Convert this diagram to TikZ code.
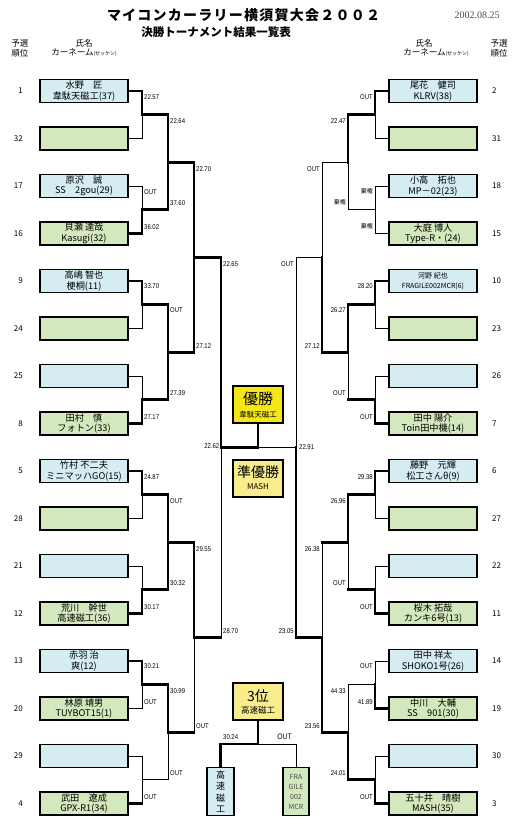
\documentclass[tikz,border=0pt]{standalone}
\usepackage{fontspec}
\setmainfont{Noto Sans CJK JP}
\newfontfamily\timefont[FakeStretch=0.85]{Liberation Sans}
\newfontfamily\datefont{Liberation Serif}
\definecolor{boxblue}{RGB}{212,236,242}
\definecolor{boxgreen}{RGB}{212,232,190}
\definecolor{gold}{RGB}{245,230,25}
\definecolor{palegold}{RGB}{248,236,140}

\tikzset{
  entry/.style={draw, line width=1.8pt, minimum width=88pt, minimum height=23pt,
    inner sep=0pt, align=center, font=\fontsize{9.2}{10.5}\selectfont},
  seedA/.style={entry, fill=boxblue},
  seedB/.style={entry, fill=boxgreen},
  win/.style={line width=2.6pt, line cap=rect},
  lose/.style={line width=0.9pt, line cap=rect},
  time/.style={font=\timefont\fontsize{7}{8}\selectfont, inner sep=0pt},
  rank/.style={font=\fontsize{8}{9}\selectfont, inner sep=0pt},
  head/.style={font=\fontsize{8.5}{9}\selectfont, inner sep=0pt},
  medal/.style={draw, line width=2.4pt, minimum width=50pt, minimum height=37pt,
    inner sep=0pt, align=center},
}

\begin{document}
\begin{tikzpicture}[x=1pt, y=-1pt]
\useasboundingbox (0,0) rectangle (520,822);

% title
\node (title) at (243.5,15) {\fontsize{14}{15}\selectfont\bfseries\makebox[273pt]{マ\hfill イ\hfill コ\hfill ン\hfill カ\hfill ー\hfill ラ\hfill リ\hfill ー\hfill 横\hfill 須\hfill 賀\hfill 大\hfill 会\hfill ２\hfill ０\hfill ０\hfill ２}};
\node (subtitle) at (216,32) {\fontsize{11.5}{12}\selectfont\bfseries 決勝トーナメント結果一覧表};
\node[font=\datefont\fontsize{10}{11}\selectfont, text=black!70] (date) at (477,15) {2002.08.25};

% column heads
\node[head] (lhA) at (20,43) {予選};
\node[head] (lhB) at (20,53) {順位};
\node[head] (lhC) at (84,43) {氏名};
\node[head] (lhD) at (84,53) {カーネーム{\fontsize{5}{6}\selectfont (ゼッケン)}};
\node[head] (rhA) at (499,43) {予選};
\node[head] (rhB) at (499,53) {順位};
\node[head] (rhC) at (424,43) {氏名};
\node[head] (rhD) at (436,53) {カーネーム{\fontsize{5}{6}\selectfont (ゼッケン)}};

% seeds
\foreach \s [count=\i from 0] in {1,32,17,16,9,24,25,8,5,28,21,12,13,20,29,4}
  \node[rank, anchor=east] (ls\s) at (23,91+47.5*\i) {\s};
\foreach \s [count=\i from 0] in {2,31,18,15,10,23,26,7,6,27,22,11,14,19,30,3}
  \node[rank, anchor=west] (rs\s) at (492,91+47.5*\i) {\s};

% left entries
\node[seedA] (l1)  at (84,91)    {水野　匠\\韋駄天磁工(37)};
\node[seedB] (l32) at (84,138.5) {};
\node[seedA] (l17) at (84,186)   {原沢　誠\\SS　2gou(29)};
\node[seedB] (l16) at (84,233.5) {貝瀬 達哉\\Kasugi(32)};
\node[seedA] (l9)  at (84,281)   {高嶋 智也\\梗桐(11)};
\node[seedB] (l24) at (84,328.5) {};
\node[seedA] (l25) at (84,376)   {};
\node[seedB] (l8)  at (84,423.5) {田村　慎\\フォトン(33)};
\node[seedA] (l5)  at (84,471)   {竹村 不二夫\\ミニマッハGO(15)};
\node[seedB] (l28) at (84,518.5) {};
\node[seedA] (l21) at (84,566)   {};
\node[seedB] (l12) at (84,613.5) {荒川　幹世\\高速磁工(36)};
\node[seedA] (l13) at (84,661)   {赤羽 治\\爽(12)};
\node[seedB] (l20) at (84,708.5) {林原 靖男\\TUYBOT15(1)};
\node[seedA] (l29) at (84,756)   {};
\node[seedB] (l4)  at (84,803.5) {武田　遼成\\GPX-R1(34)};

% right entries
\node[seedA] (r2)  at (433,91)    {尾花　健司\\KLRV(38)};
\node[seedB] (r31) at (433,138.5) {};
\node[seedA] (r18) at (433,186)   {小高　拓也\\MP－02(23)};
\node[seedB] (r15) at (433,233.5) {大庭 博人\\Type-R・(24)};
\node[seedA, font=\fontsize{7}{9.5}\selectfont] (r10) at (433,281) {河野 紀也\\FRAGILE002MCR(6)};
\node[seedB] (r23) at (433,328.5) {};
\node[seedA] (r26) at (433,376)   {};
\node[seedB] (r7)  at (433,423.5) {田中 陽介\\Toin田中機(14)};
\node[seedA] (r6)  at (433,471)   {藤野　元輝\\松工さんθ(9)};
\node[seedB] (r27) at (433,518.5) {};
\node[seedA] (r22) at (433,566)   {};
\node[seedB] (r11) at (433,613.5) {桜木 拓哉\\カンキ6号(13)};
\node[seedA] (r14) at (433,661)   {田中 祥太\\SHOKO1号(26)};
\node[seedB] (r19) at (433,708.5) {中川　大輔\\SS　901(30)};
\node[seedA] (r30) at (433,756)   {};
\node[seedB] (r3)  at (433,803.5) {五十井　晴樹\\MASH(35)};

% medals
\node[medal, fill=gold] (champ) at (258,404.5) {\fontsize{15}{17}\selectfont 優勝\\[1pt]\fontsize{7.5}{9}\selectfont 韋駄天磁工};
\node[medal, fill=palegold, line width=2pt] (second) at (258,478) {\fontsize{14}{16}\selectfont 準優勝\\\fontsize{8}{9}\selectfont MASH};
\node[medal, fill=palegold, line width=2pt] (third) at (258,701.5) {\fontsize{14}{16}\selectfont 3位\\\fontsize{8.5}{9}\selectfont 高速磁工};
\node[entry, fill=boxblue, minimum width=27pt, minimum height=48pt,
  font=\fontsize{9}{11.5}\selectfont] (bronzeL) at (220.5,791.5) {高\\速\\磁\\工};
\node[entry, fill=boxgreen, line width=1.6pt, minimum width=26pt, minimum height=48pt,
  font=\fontsize{7}{10}\selectfont, text=black!70] (bronzeR) at (296,791.5) {FRA\\GILE\\002\\MCR};

% junctions
\coordinate (la1) at (142,114.75);
\coordinate (la2) at (142,209.75);
\coordinate (la3) at (142,304.75);
\coordinate (la4) at (142,399.75);
\coordinate (la5) at (142,494.75);
\coordinate (la6) at (142,589.75);
\coordinate (la7) at (142,684.75);
\coordinate (la8) at (142,779.75);
\coordinate (lb1) at (168,162.25);
\coordinate (lb2) at (168,352.25);
\coordinate (lb3) at (168,542.25);
\coordinate (lb4) at (168,732.25);
\coordinate (lc1) at (194,257.25);
\coordinate (lc2) at (194,637.25);
\coordinate (ld)  at (221,447.25);
\coordinate (ra1) at (375,114.75);
\coordinate (ra2) at (375,209.75);
\coordinate (ra3) at (375,304.75);
\coordinate (ra4) at (375,399.75);
\coordinate (ra5) at (375,494.75);
\coordinate (ra6) at (375,589.75);
\coordinate (ra7) at (375,684.75);
\coordinate (ra8) at (375,779.75);
\coordinate (rb1) at (348,162.25);
\coordinate (rb2) at (348,352.25);
\coordinate (rb3) at (348,542.25);
\coordinate (rb4) at (348,732.25);
\coordinate (rc1) at (322,257.25);
\coordinate (rc2) at (322,637.25);
\coordinate (rd)  at (296,447.25);
\coordinate (fin) at (258,447.25);
\coordinate (tp)  at (258,744);

% left bracket
\draw[lose] (l32.east) -| (la1);
\draw[win]  (l1.east)  -| (la1);
\draw[lose] (l17.east) -| (la2);
\draw[win]  (l16.east) -| (la2);
\draw[lose] (l24.east) -| (la3);
\draw[win]  (l9.east)  -| (la3);
\draw[lose] (l25.east) -| (la4);
\draw[win]  (l8.east)  -| (la4);
\draw[lose] (l28.east) -| (la5);
\draw[win]  (l5.east)  -| (la5);
\draw[lose] (l21.east) -| (la6);
\draw[win]  (l12.east) -| (la6);
\draw[lose] (l20.east) -| (la7);
\draw[win]  (l13.east) -| (la7);
\draw[lose] (l29.east) -| (la8);
\draw[lose] (l4.east -| la8) -- (la8);
\draw[win]  (l4.east) -- (l4.east -| la8);

\draw[win]  (la1) -| (lb1);
\draw[win]  (la2) -| (lb1);
\draw[win]  (la3) -| (lb2);
\draw[win]  (la4) -| (lb2);
\draw[win]  (la5) -| (lb3);
\draw[win]  (la6) -| (lb3);
\draw[lose] (la8) -| (lb4);
\draw[win]  (la7) -| (lb4);

\draw[win]  (lb1) -| (lc1);
\draw[win]  (lb2) -| (lc1);
\draw[win]  (lb3) -| (lc2);
\draw[lose] (lb4 -| lc2) -- (lc2);
\draw[win]  (lb4) -- (lb4 -| lc2);

\draw[lose] (lc2 -| ld) -- (ld);
\draw[win]  (lc1) -| (ld);
\draw[win]  (lc2) -- (lc2 -| ld);

% right bracket
\draw[lose] (r31.west) -| (ra1);
\draw[win]  (r2.west)  -| (ra1);
\draw[lose] (r18.west) -| (ra2);
\draw[lose] (r15.west) -| (ra2);
\draw[lose] (r23.west) -| (ra3);
\draw[win]  (r10.west) -| (ra3);
\draw[lose] (r26.west) -| (ra4);
\draw[win]  (r7.west)  -| (ra4);
\draw[lose] (r27.west) -| (ra5);
\draw[win]  (r6.west)  -| (ra5);
\draw[lose] (r22.west) -| (ra6);
\draw[win]  (r11.west) -| (ra6);
\draw[lose] (r14.west) -| (ra7);
\draw[win]  (r19.west) -| (ra7);
\draw[lose] (r30.west) -| (ra8);
\draw[win]  (r3.west)  -| (ra8);

\draw[lose] (ra2) -| (rb1);
\draw[win]  (ra1) -| (rb1);
\draw[win]  (ra3) -| (rb2);
\draw[lose] (ra4 -| rb2) -- (rb2);
\draw[win]  (ra4) -- (ra4 -| rb2);
\draw[win]  (ra5) -| (rb3);
\draw[lose] (ra6 -| rb3) -- (rb3);
\draw[win]  (ra6) -- (ra6 -| rb3);
\draw[lose] (ra7) -| (rb4);
\draw[win]  (ra8) -| (rb4);

\draw[lose] (rb1) -| (rc1);
\draw[win]  (rb2) -| (rc1);
\draw[lose] (rb3 -| rc2) -- (rc2);
\draw[win]  (rb3) -- (rb3 -| rc2);
\draw[win]  (rb4) -| (rc2);

\draw[lose] (rc1) -| (rd);
\draw[win]  (rc2) -| (rd);

% final and third place
\draw[lose] (fin) -- (rd);
\draw[win]  (ld) -- (fin) -- (champ.south);
\draw[lose] (tp) -| (bronzeR.north);
\draw[win]  (third.south) -- (tp) -| (bronzeL.north);

% times
\foreach \px/\py/\lab [count=\k] in {
  144/97.5/22.57, 144/192.5/OUT, 144/227/36.02, 144/286/33.70, 144/417/27.17,
  144/477.5/24.87, 144/607/30.17, 144/666.5/30.21, 144/702/OUT, 144/797/OUT,
  170/121.25/22.64, 170/203.25/37.60, 170/310.5/OUT, 170/393.25/27.39,
  170/501.25/OUT, 170/583.25/30.32, 170/691.25/30.99, 170/773.25/OUT,
  196/168.75/22.70, 196/345.75/27.12, 196/548.75/29.55, 196/725.75/OUT,
  223/263.75/22.65, 223/630.75/28.70, 299/447.25/22.91, 223/737/30.24}
  \node[time, anchor=west] (tl\k) at (\px,\py) {\lab};
\foreach \px/\py/\lab [count=\k] in {
  373/97.5/OUT, 373/286/28.20, 373/417/OUT, 373/477.5/29.38, 373/607/OUT,
  373/666.5/OUT, 373/702/41.89, 373/797/OUT,
  346/121.25/22.47, 346/310/26.27, 346/393.25/OUT, 346/501.25/26.96,
  346/583.25/OUT, 346/691.25/44.33, 346/773.25/24.01,
  320/168.75/OUT, 320/345.75/27.12, 320/548.75/26.38, 320/725.75/23.56,
  294/263.75/OUT, 294/630.75/23.05, 219.5/446/22.62}
  \node[time, anchor=east] (tr\k) at (\px,\py) {\lab};
\node[time, font=\timefont\fontsize{8}{9}\selectfont] (tout) at (284.5,737) {OUT};
\foreach \px/\py [count=\k] in {373/191, 373/226.5, 346/202.5}
  \node[time, font=\fontsize{6}{7}\selectfont, anchor=east] (tk\k) at (\px,\py) {棄権};

\end{tikzpicture}
\end{document}
